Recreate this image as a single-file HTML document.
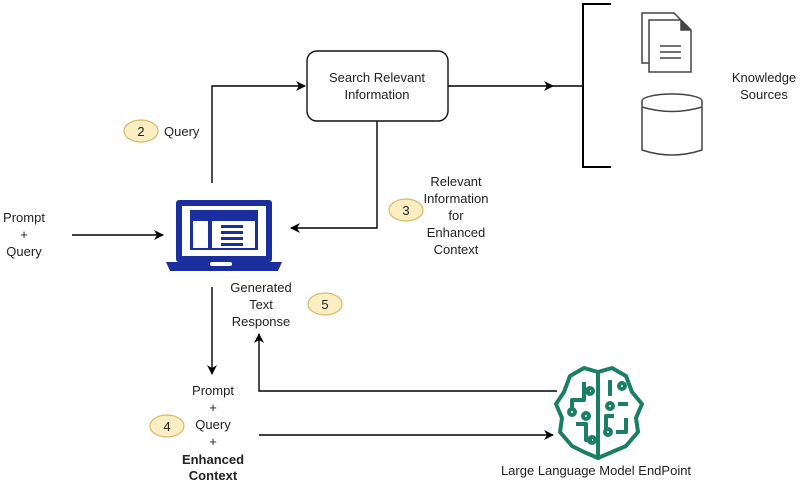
<!DOCTYPE html>
<html><head><style>
body{margin:0;background:#fff;}
svg text{font-family:"Liberation Sans",sans-serif;font-size:13px;fill:#222;}
</style></head><body>
<svg width="800" height="483" viewBox="0 0 800 483" xmlns="http://www.w3.org/2000/svg">
<defs>
<marker id="a" markerWidth="10" markerHeight="10" refX="9" refY="5" orient="auto" markerUnits="userSpaceOnUse">
<path d="M0,0 L10,5 L0,10 L3,5 Z" fill="#000"/></marker>
</defs>
<g stroke="#000" stroke-width="1.4" fill="none">
<rect x="307" y="51" width="141" height="70" rx="10" stroke="#111"/>
<path d="M212,183 V86 H305" marker-end="url(#a)"/>
<path d="M448,86 H553" marker-end="url(#a)"/>
<path d="M553,86 H583"/>
<path d="M611,4 H583 V167 H611" stroke-width="2"/>
<path d="M377,121 V228 H291" marker-end="url(#a)"/>
<path d="M72,235 H163" marker-end="url(#a)"/>
<path d="M212,287 V374" marker-end="url(#a)"/>
<path d="M557,391 H259 V334" marker-end="url(#a)"/>
<path d="M259,435 H553" marker-end="url(#a)"/>
</g>
<text x="377" y="82" text-anchor="middle">Search Relevant</text>
<text x="377" y="99" text-anchor="middle">Information</text>
<!-- docs -->
<g stroke="#444" stroke-width="1.5" fill="#fff">
<path d="M642,13 H674 L680,19 V63 H642 Z"/>
<path d="M649,20 H681 L691,30 V72 H649 Z"/>
<path d="M681,20 V30 H691" fill="#444"/>
<path d="M660,46 H681 M660,52 H681 M660,58 H681"/>
<ellipse cx="672" cy="101" rx="30" ry="7"/>
<path d="M642,101 V150 Q672,160 702,150 V101"/>
<path d="M642,107 Q672,116 702,107"/>
</g>
<text x="764" y="82" text-anchor="middle">Knowledge</text>
<text x="764" y="99" text-anchor="middle">Sources</text>
<!-- laptop -->
<g fill="#1a2e9e">
<rect x="176" y="200" width="96" height="62" rx="3"/>
<rect x="182" y="206" width="84" height="50" fill="#fff"/>
<rect x="190" y="210" width="68" height="40"/>
<rect x="193" y="221" width="15" height="27" fill="#fff"/>
<rect x="212" y="221" width="43" height="27" fill="#fff"/>
<rect x="221" y="225" width="22" height="3"/>
<rect x="221" y="231" width="22" height="3"/>
<rect x="221" y="237" width="22" height="3"/>
<rect x="221" y="243" width="22" height="3"/>
<path d="M166,262 H282 L278,271 H170 Z"/>
<rect x="210" y="262" width="22" height="4" rx="2" fill="#fff"/>
</g>
<!-- brain -->
<g stroke="#1a7f64" stroke-width="4" fill="none" stroke-linejoin="round">
<path d="M598,372 L584,368 L570,376 L564,392 L556,404 L562,418 L560,432 L572,446 L584,452 L598,458 Z"/>
<path d="M598,372 L612,368 L626,376 L632,392 L642,404 L636,418 L638,432 L626,446 L612,452 L598,458 Z"/>
<path d="M584,382 V400 H572 V410 M584,400 V392 H590" />
<circle cx="590" cy="391" r="3"/><circle cx="572" cy="412" r="3"/>
<path d="M576,424 H586 V440 H592"/><circle cx="592" cy="440" r="3"/>
<circle cx="586" cy="416" r="3"/>
<path d="M610,380 V396 M618,404 H628 M614,416 H606 V430"/>
<circle cx="622" cy="386" r="3"/><circle cx="610" cy="406" r="3"/><circle cx="608" cy="432" r="3"/>
<path d="M626,418 V432 H616"/>
</g>
<text x="596" y="475" text-anchor="middle">Large Language Model EndPoint</text>
<!-- badges -->
<g fill="#fbeec3" stroke="#d8b864" stroke-width="1.2">
<ellipse cx="141" cy="131" rx="17" ry="11"/>
<ellipse cx="406" cy="210" rx="17" ry="11"/>
<ellipse cx="325" cy="304" rx="17" ry="11"/>
<ellipse cx="167" cy="426" rx="17" ry="11"/>
</g>
<text x="141" y="136" text-anchor="middle">2</text>
<text x="406" y="215" text-anchor="middle">3</text>
<text x="325" y="309" text-anchor="middle">5</text>
<text x="167" y="431" text-anchor="middle">4</text>
<text x="164" y="136">Query</text>
<text x="456" y="186" text-anchor="middle">Relevant</text>
<text x="456" y="203" text-anchor="middle">Information</text>
<text x="456" y="220" text-anchor="middle">for</text>
<text x="456" y="237" text-anchor="middle">Enhanced</text>
<text x="456" y="254" text-anchor="middle">Context</text>
<text x="24" y="222" text-anchor="middle">Prompt</text>
<text x="24" y="239" text-anchor="middle">+</text>
<text x="24" y="256" text-anchor="middle">Query</text>
<text x="261" y="292" text-anchor="middle">Generated</text>
<text x="261" y="309" text-anchor="middle">Text</text>
<text x="261" y="326" text-anchor="middle">Response</text>
<text x="213" y="395" text-anchor="middle">Prompt</text>
<text x="213" y="412" text-anchor="middle">+</text>
<text x="213" y="429" text-anchor="middle">Query</text>
<text x="213" y="446" text-anchor="middle">+</text>
<text x="213" y="464" text-anchor="middle" font-weight="bold">Enhanced</text>
<text x="213" y="480" text-anchor="middle" font-weight="bold">Context</text>
</svg>
</body></html>
